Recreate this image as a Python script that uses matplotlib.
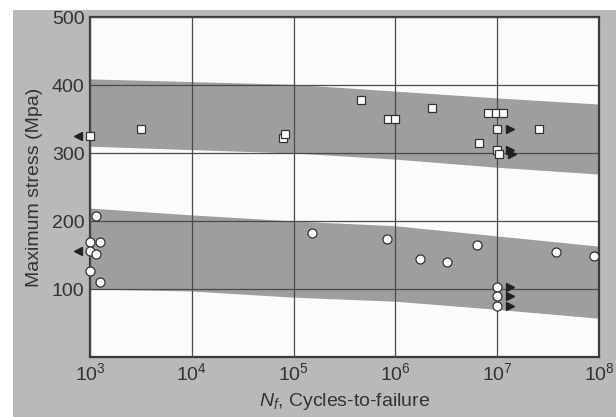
import numpy as np
import matplotlib
matplotlib.use("Agg")
import matplotlib.pyplot as plt
import matplotlib.transforms as mtransforms
from matplotlib.patches import Rectangle

plt.rcParams["font.family"] = ["Liberation Sans", "DejaVu Sans"]
plt.rcParams["mathtext.fontset"] = "custom"
plt.rcParams["mathtext.rm"] = "Liberation Sans"
plt.rcParams["mathtext.it"] = "Liberation Sans:italic"

# Scatter bands (edges read at each decade)
band_cycles = [1e3, 1e4, 1e5, 1e6, 1e7, 1e8]
upper_band_top = [409, 405, 401, 391, 381, 372]
upper_band_bottom = [310, 305, 300, 291, 279, 269]
lower_band_top = [219, 209, 200, 193, 178, 163]
lower_band_bottom = [100, 97, 88, 82, 70, 57]

# Square symbols (upper band)
sq_cycles = [1e3, 3.2e3, 7.8e4, 8.3e4, 4.6e5, 8.5e5, 1.0e6, 2.3e6,
             8.1e6, 9.8e6, 1.15e7, 1e7, 2.6e7, 6.6e6, 1e7, 1.05e7]
sq_stress = [325, 335, 322, 328, 378, 350, 350, 366,
             359, 359, 359, 335, 335, 315, 305, 298]

# Circle symbols (lower band)
ci_cycles = [1.15e3, 1e3, 1.25e3, 1e3, 1.15e3, 1e3, 1.25e3, 1.5e5,
             8.3e5, 1.75e6, 3.2e6, 6.3e6, 3.8e7, 8.9e7, 1e7, 1e7, 1e7]
ci_stress = [207, 169, 169, 156, 151, 127, 110, 182,
             174, 144, 140, 165, 154, 149, 103, 90, 75]

# points with arrows: left = below 10^3, right = run-outs
left_arrow_cycles = [1e3, 1e3]
left_arrow_stress = [325, 156]
right_arrow_cycles = [1e7, 1e7, 1.05e7, 1e7, 1e7, 1e7]
right_arrow_stress = [335, 305, 298, 103, 90, 75]

fig = plt.figure(figsize=(6.16, 4.17), dpi=100, facecolor="white")
fig.patches.append(Rectangle((13 / 616, 0), 1, 1 - 10 / 417, transform=fig.transFigure,
                             facecolor="#b9b9b9", edgecolor="none", zorder=-10))
ax = fig.add_axes([90 / 616, 1 - 357 / 417, 509 / 616, 340 / 417])
ax.set_facecolor("#fbfbfb")

band_color = "#9e9e9e"
ax.fill_between(band_cycles, upper_band_bottom, upper_band_top, color=band_color, lw=0, zorder=1)
ax.fill_between(band_cycles, lower_band_bottom, lower_band_top, color=band_color, lw=0, zorder=1)

ax.set_xscale("log")
ax.set_xlim(1e3, 1e8)
ax.set_ylim(0, 500)
ax.set_xticks([1e3, 1e4, 1e5, 1e6, 1e7, 1e8])
ax.set_xticklabels([r"10$^{%d}$" % e for e in range(3, 9)])
ax.set_yticks([100, 200, 300, 400, 500])
ax.minorticks_off()
ax.grid(True, color="#4a4a4a", lw=0.9, zorder=2)
ax.set_axisbelow(False)
ax.tick_params(length=0, pad=4, labelsize=14, labelcolor="#333333")
for s in ax.spines.values():
    s.set_color("#3a3a3a")
    s.set_linewidth(1.6)

ms = 6
ax.plot(sq_cycles, sq_stress, "s", ms=ms, mfc="white", mec="#333333", mew=0.9,
        clip_on=False, zorder=5)
ax.plot(ci_cycles, ci_stress, "o", ms=ms + 0.5, mfc="white", mec="#333333", mew=0.9,
        clip_on=False, zorder=5)

left_off = ax.transData + mtransforms.ScaledTranslation(-9 / 72, 0, fig.dpi_scale_trans)
right_off = ax.transData + mtransforms.ScaledTranslation(9 / 72, 0, fig.dpi_scale_trans)
ax.plot(left_arrow_cycles, left_arrow_stress, "<", ms=5.5, color="#222222",
        transform=left_off, clip_on=False, zorder=4)
ax.plot(right_arrow_cycles, right_arrow_stress, ">", ms=5.5, color="#222222",
        transform=right_off, clip_on=False, zorder=4)

ax.set_ylabel("Maximum stress (Mpa)", fontsize=14, color="#333333", labelpad=6)
ax.set_xlabel(r"$N_f$, Cycles-to-failure", fontsize=14, color="#333333", labelpad=5)

fig.savefig("out.png", dpi=100, facecolor=fig.get_facecolor())
